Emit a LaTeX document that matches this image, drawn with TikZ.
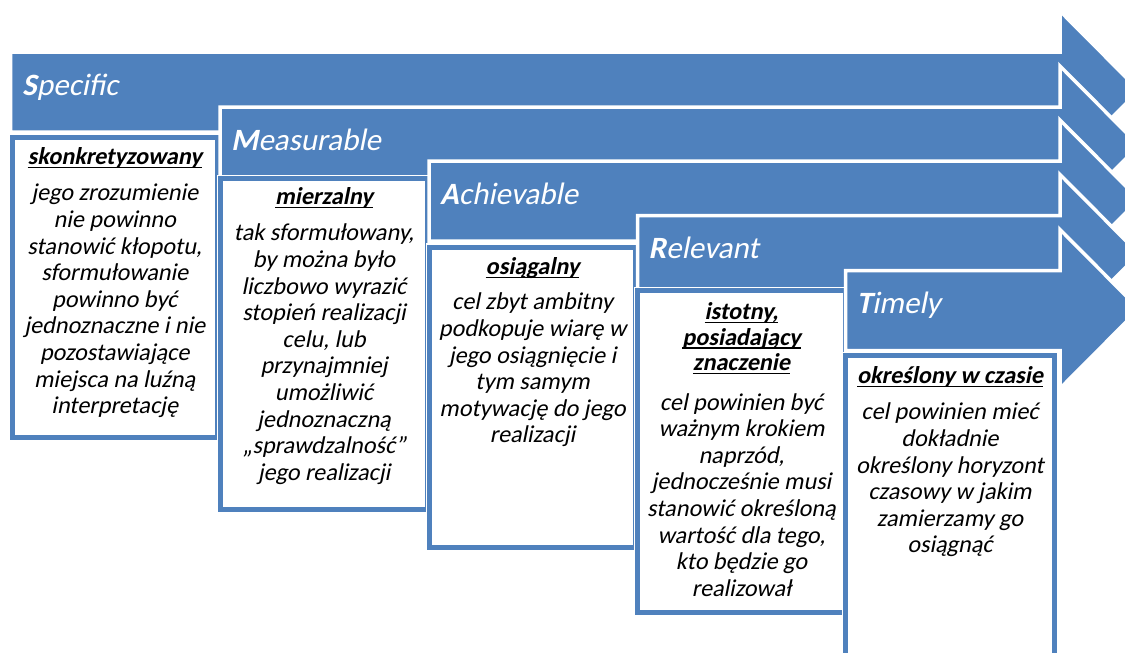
\documentclass[tikz,border=0pt]{standalone}
\usepackage{fontspec}
\setmainfont{Carlito}[ItalicFont=Carlito, ItalicFeatures={FakeSlant=0.2},
  BoldItalicFont=Carlito Bold, BoldItalicFeatures={FakeSlant=0.2}]
\newcommand{\hul}[1]{\setbox0=\hbox{#1}\rlap{\raisebox{-3.4pt}{\rule{\wd0}{1.6pt}}}\box0}
\definecolor{sblue}{HTML}{4F81BD}
\newcommand{\smartarrow}[2]{%
  \path[arrowshape] (#1,#2) -- (1060,#2) -- (1060,{#2-41}) -- (1139,{#2+38.5})
    -- (1060,{#2+118}) -- (1060,{#2+80}) -- (#1,{#2+80}) -- cycle;}
\newcommand{\smartbox}[4]{%
  \path[boxouter] (#1,#2) rectangle (#3,#4);
  \path[boxinner] (#1,#2) rectangle (#3,#4);}
\begin{document}
\begin{tikzpicture}[x=1pt,y=-1pt,
  arrowshape/.style={fill=sblue, draw=white, line width=3.5pt, line join=miter},
  boxouter/.style={draw=white, line width=8pt},
  boxinner/.style={fill=white, draw=sblue, line width=5pt},
  title/.style={anchor=base west, inner sep=0pt, text=white, font=\fontsize{31}{37}\selectfont\itshape},
  boxtext/.style={anchor=north, inner sep=0pt, align=center, text=black, font=\fontsize{24.2}{26.6}\selectfont\itshape}
]
\useasboundingbox (0,0) rectangle (1125,653);
\clip (0,0) rectangle (1125,653);
\fill[white] (0,0) rectangle (1125,653);

% Specific
\smartarrow{10.5}{52}
\node[title] (tS) at (22,95) {\textbf{S}pecific};
\smartbox{12.5}{137.5}{217}{437.5}
\node[boxtext] (b1) at (114.75,{137.5+7}) {\rule{0pt}{20pt}\hul{\textbf{skonkretyzowany}}\\[9.5pt]
jego zrozumienie\\ nie powinno\\ stanowić kłopotu,\\ sformułowanie\\ powinno być\\ jednoznaczne i nie\\ pozostawiające\\ miejsca na luźną\\ interpretację};

% Measurable
\smartarrow{220}{107}
\node[title] (tM) at (231,150) {\textbf{M}easurable};
\smartbox{220.5}{178.5}{427.5}{509}
\node[boxtext] (b2) at (324,{178.5+6}) {\rule{0pt}{20pt}\hul{\textbf{mierzalny}}\\[9.5pt]
tak sformułowany,\\ by można było\\ liczbowo wyrazić\\ stopień realizacji\\ celu, lub\\ przynajmniej\\ umożliwić\\ jednoznaczną\\ „sprawdzalność”\\ jego realizacji};

% Achievable
\smartarrow{429}{161}
\node[title] (tA) at (440,204) {\textbf{A}chievable};
\smartbox{429.5}{247}{635.5}{547.5}
\node[boxtext] (b3) at (532.5,{247+7.5}) {\rule{0pt}{20pt}\hul{\textbf{osiągalny}}\\[8.5pt]
cel zbyt ambitny\\ podkopuje wiarę w\\ jego osiągnięcie i\\ tym samym\\ motywację do jego\\ realizacji};

% Relevant
\smartarrow{637.5}{215.5}
\node[title] (tR) at (648.5,258.5) {\textbf{R}elevant};
\smartbox{637.5}{290.5}{845.5}{612.5}
\node[boxtext] (b4) at (741.5,{290.5+9}) {\rule{0pt}{20pt}\hul{\textbf{istotny,}}\\[-1pt]\hul{\textbf{posiadający}}\\[-1pt]\hul{\textbf{znaczenie}}\\[12.5pt]
cel powinien być\\ ważnym krokiem\\ naprzód,\\ jednocześnie musi\\ stanowić określoną\\ wartość dla tego,\\ kto będzie go\\ realizował};

% Timely
\smartarrow{845.5}{270.5}
\node[title] (tT) at (856.5,313.5) {\textbf{T}imely};
\smartbox{845.5}{355.5}{1054.5}{700}
\node[boxtext] (b5) at (950,{355.5+8}) {\rule{0pt}{20pt}\hul{\textbf{określony w czasie}}\\[9.5pt]
cel powinien mieć\\ dokładnie\\ określony horyzont\\ czasowy w jakim\\ zamierzamy go\\ osiągnąć};
\end{tikzpicture}
\end{document}
